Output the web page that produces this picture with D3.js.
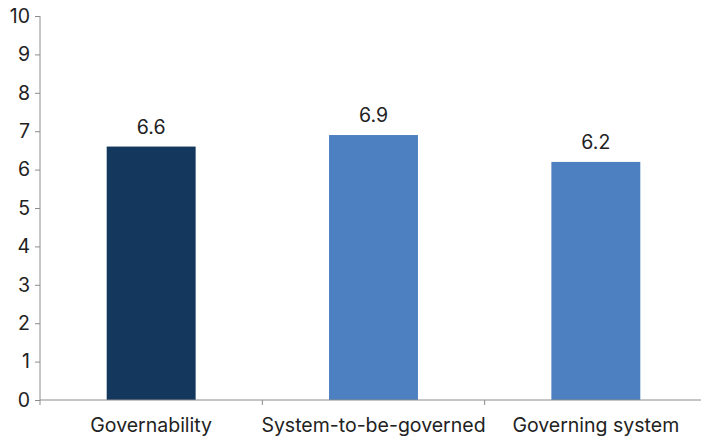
<!DOCTYPE html>
<html>
<head>
<meta charset="utf-8">
<script src="https://cdn.jsdelivr.net/npm/d3@7"></script>
<style>
  html, body { margin: 0; padding: 0; background: #fff; }
  svg { display: block; font-family: Inter, "Open Sans", sans-serif; }
</style>
</head>
<body>
<svg id="chart" width="701" height="437"></svg>
<script>
// Scores per dimension
const categories = ["Governability", "System-to-be-governed", "Governing system"];
const values = [6.6, 6.9, 6.2];
const barColors = ["#14375e", "#4d80c0", "#4d80c0"];
const yTicks = [0, 1, 2, 3, 4, 5, 6, 7, 8, 9, 10];

const svg = d3.select("#chart");
const plotLeft = 40, plotRight = 707, plotTop = 16, plotBottom = 400;
const fontSize = 19.5;

const x = d3.scaleBand().domain(categories).range([plotLeft, plotRight]).paddingInner(0.6).paddingOuter(0.3);
const xTick = d3.scaleLinear().domain([0, categories.length]).range([plotLeft, plotRight]);
const y = d3.scaleLinear().domain([0, 10]).range([plotBottom, plotTop]);

const axisColor = "#8c8c8c";

// Bars
svg.append("g").selectAll("rect").data(values).join("rect")
  .attr("x", (d, i) => x(categories[i]))
  .attr("width", x.bandwidth())
  .attr("y", d => y(d))
  .attr("height", d => y(0) - y(d))
  .attr("fill", (d, i) => barColors[i]);

// Value labels
svg.append("g").selectAll("text").data(values).join("text")
  .attr("x", (d, i) => x(categories[i]) + x.bandwidth() / 2)
  .attr("y", d => y(d) - 13)
  .attr("text-anchor", "middle")
  .attr("font-size", fontSize)
  .attr("fill", "#222")
  .text(d => d.toFixed(1));

// Y axis
const yAxis = svg.append("g").attr("transform", `translate(${plotLeft},0)`)
  .call(d3.axisLeft(y).tickValues(yTicks).tickSize(5).tickPadding(5).tickFormat(d3.format("d")));
yAxis.select(".domain").attr("stroke", axisColor).attr("d", `M0,${plotTop}V${plotBottom}`);
yAxis.selectAll(".tick line").attr("stroke", axisColor);
yAxis.selectAll(".tick text").attr("font-size", fontSize).attr("fill", "#222").attr("font-family", "Inter, 'Open Sans', sans-serif");

// X axis with category boundary ticks
const xAxis = svg.append("g").attr("transform", `translate(0,${plotBottom})`);
xAxis.append("line").attr("x1", plotLeft).attr("x2", 701).attr("stroke", axisColor);
xAxis.selectAll("line.tk").data(d3.range(categories.length + 1)).join("line")
  .attr("class", "tk")
  .attr("x1", d => xTick(d)).attr("x2", d => xTick(d))
  .attr("y1", 0).attr("y2", 5)
  .attr("stroke", axisColor);
xAxis.selectAll("text").data(categories).join("text")
  .attr("x", d => x(d) + x.bandwidth() / 2)
  .attr("y", 32)
  .attr("text-anchor", "middle")
  .attr("font-size", fontSize)
  .attr("fill", "#222")
  .text(d => d);
</script>
</body>
</html>
